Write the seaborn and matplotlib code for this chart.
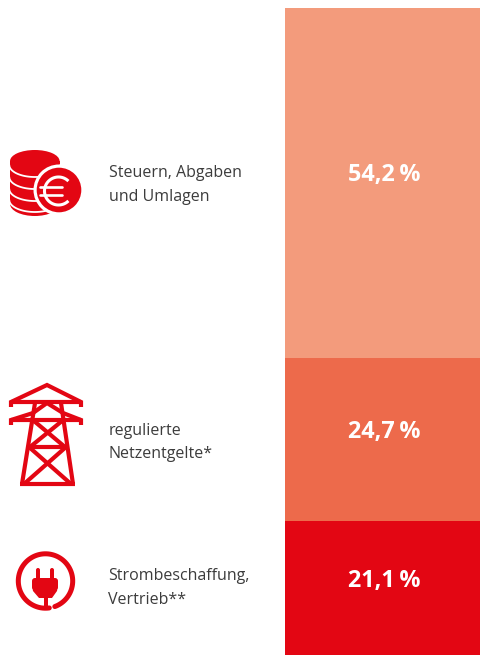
import matplotlib
matplotlib.use("Agg")
import matplotlib.pyplot as plt
import numpy as np
import pandas as pd
import seaborn as sns
from matplotlib.patches import Circle, Ellipse, FancyBboxPatch, Polygon, Rectangle

# Werte
kategorien = ["Steuern, Abgaben\nund Umlagen", "regulierte\nNetzentgelte*", "Strombeschaffung,\nVertrieb**"]
# Hoehen (weichen leicht von den Beschriftungen ab)
anteile = [54.1, 25.2, 20.7]
labels = ["54,2\u2009%", "24,7\u2009%", "21,1\u2009%"]
farben = ["#F39B7C", "#ED6A4B", "#E30613"]
ROT = "#E30613"

sns.set_theme(style="white")
plt.rcParams["font.family"] = ["Open Sans", "DejaVu Sans"]

W, H = 480, 655
fig = plt.figure(figsize=(W / 100, H / 100), dpi=100, facecolor="white")

# Balken
ax = fig.add_axes([285 / W, 0, 195 / W, 647 / H])
df = pd.DataFrame({"kat": kategorien, "wert": anteile})
unten = 0
for i, row in df.iterrows():
    sns.barplot(x=["a"], y=[row["wert"]], bottom=unten, color=farben[i], saturation=1, width=1,
                linewidth=0, ax=ax)
    unten += row["wert"]
ax.set_ylim(100, 0)
ax.set_xlim(-0.5, 0.5)
ax.axis("off")

# Ebene fuer Texte und Icons, in Pixeln
ov = fig.add_axes([0, 0, 1, 1], zorder=5)
ov.set_xlim(0, W)
ov.set_ylim(H, 0)
ov.axis("off")
ov.patch.set_alpha(0)

for lab, y in zip(labels, [175, 432, 581]):
    ov.text(384.5, y, lab, ha="center", va="center", color="white", fontsize=16.8, fontweight="bold")

for txt, x, y in zip(kategorien, [109, 109, 108], [185, 442.5, 588]):
    ov.text(x, y, txt, ha="left", va="center", fontsize=11.5, color="#3C3C3C", linespacing=1.6)

# Icon Muenzen
ov.add_patch(Rectangle((10, 161), 49.5, 44, color=ROT, lw=0, zorder=1))
ov.add_patch(Ellipse((34.8, 204), 49.5, 24, color=ROT, lw=0, zorder=1))
t = np.linspace(np.pi, 2 * np.pi, 60)
for y in [165, 177, 189, 200]:
    ov.plot(34.8 + 25.5 * np.cos(t), y - 12 * np.sin(t), color="white", lw=1.3, zorder=2)
ov.add_patch(Ellipse((34.8, 161), 49.5, 22, color=ROT, lw=0, zorder=3))
ov.add_patch(Circle((59, 190), 25.5, color="white", lw=0, zorder=4))
ov.add_patch(Circle((59, 190), 22.3, color=ROT, lw=0, zorder=5))
t = np.linspace(np.radians(45), np.radians(315), 60)
ov.plot(58.5 + 14 * np.cos(t), 191 - 14 * np.sin(t), color="white", lw=2.2, solid_capstyle="butt", zorder=6)
ov.plot([40, 62], [187, 187], color="white", lw=1.9, zorder=6)
ov.plot([40, 62], [195, 195], color="white", lw=1.9, zorder=6)

# Icon Strommast
mast = [
    [(11, 407), (11, 402), (47, 385), (81, 402), (81, 407)],
    [(11, 402), (81, 402)],
    [(11, 425), (11, 420), (33, 413), (47, 403), (63, 413), (81, 420), (81, 425)],
    [(11, 420), (81, 420)],
    [(35, 403), (22, 484)],
    [(61, 403), (73, 484)],
    [(20, 484), (75, 484)],
    [(29, 447), (66, 447)],
    [(34, 421), (65, 447)],
    [(62, 421), (30, 447)],
    [(29, 447), (71, 484)],
    [(66, 447), (24, 484)],
]
for pts in mast:
    xs, ys = zip(*pts)
    ov.plot(xs, ys, color=ROT, lw=3, solid_capstyle="butt", solid_joinstyle="miter")

# Icon Stecker
t = np.linspace(np.radians(-70), np.radians(278), 100)
ov.plot(45.5 + 27.2 * np.cos(t), 581 - 27.2 * np.sin(t), color=ROT, lw=3.6, solid_capstyle="round")
ov.add_patch(FancyBboxPatch((32, 578), 26, 12, boxstyle="round,pad=0,rounding_size=3", color=ROT, lw=0))
ov.add_patch(Polygon([(32, 586), (58, 586), (57, 591), (52, 598), (39, 598), (33, 591)], color=ROT, lw=0))
for x in [36, 50]:
    ov.add_patch(FancyBboxPatch((x, 568), 4, 12, boxstyle="round,pad=0,rounding_size=2", color=ROT, lw=0))
ov.add_patch(Rectangle((44, 597), 4, 10, color=ROT, lw=0))

fig.savefig("out.png", dpi=100)
